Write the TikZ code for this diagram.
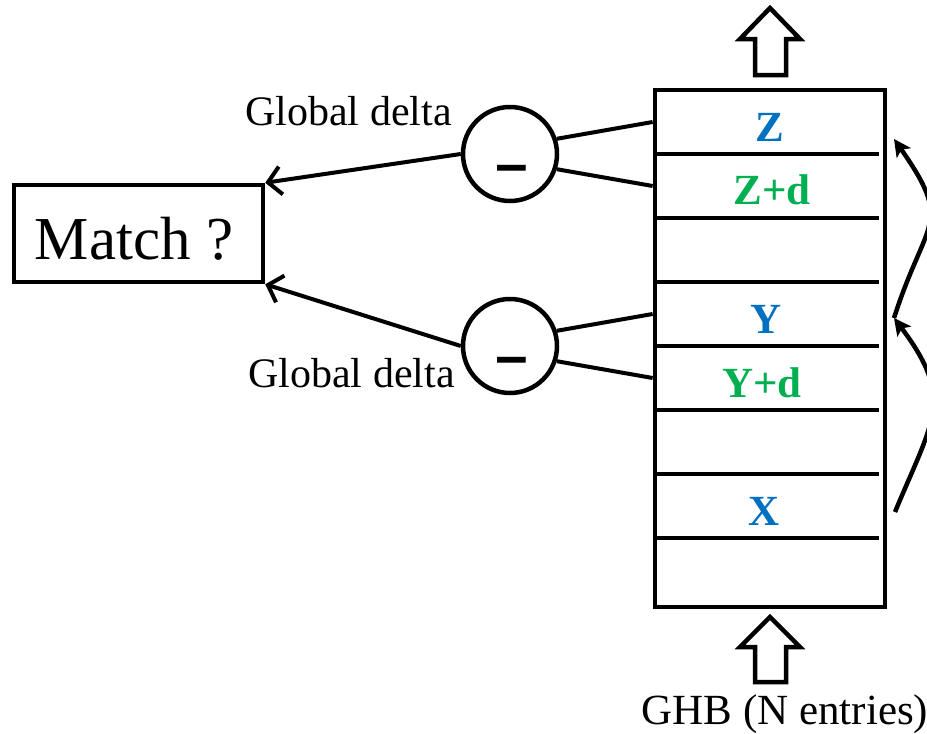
\documentclass[tikz,border=0pt]{standalone}
\usepackage{fontspec}
\setmainfont{Liberation Serif}
\usetikzlibrary{arrows.meta}
\definecolor{entryblue}{RGB}{0,112,192}
\definecolor{entrygreen}{RGB}{0,176,80}
\tikzset{
  lbl/.style={font=\fontsize{42}{42}\selectfont, inner sep=0pt},
  entry/.style={font=\fontsize{43}{43}\selectfont\bfseries, inner sep=0pt, anchor=base},
  subtract/.style={circle, draw, line width=4.5pt, minimum size=94pt, inner sep=0pt},
  wire/.style={line width=4pt},
  result/.style={line width=4pt, -{Straight Barb[length=13pt,width=28pt,line width=4pt]}},
  chain/.style={line width=4.5pt, -{Stealth[length=17pt,width=17pt,inset=4pt]}},
  blockarrow/.style={line width=4.5pt, line join=miter},
}
\begin{document}
\begin{tikzpicture}[x=1pt, y=-1pt]
\useasboundingbox (0,0) rectangle (927,734);

% global history buffer
\node[draw, line width=4.7pt, minimum width=230pt, minimum height=517pt, inner sep=0pt]
  (ghb) at (770,348.5) {};
\foreach \y in {154,218,282,346,410,474,538}
  \draw[line width=4.7pt] (655,\y) -- (879,\y);

% row centres
\coordinate (rZ)  at (770,122);
\coordinate (rZd) at (770,186);
\coordinate (rY)  at (770,314);
\coordinate (rYd) at (770,378);
\coordinate (rX)  at (770,506);

\node[entry, text=entryblue]  (tZ)  at (770,141) {Z};
\node[entry, text=entrygreen] (tZd) at (772,204) {Z+d};
\node[entry, text=entryblue]  (tY)  at (766,333) {Y};
\node[entry, text=entrygreen] (tYd) at (762,397) {Y+d};
\node[entry, text=entryblue]  (tX)  at (764,525) {X};

% in / out block arrows
\draw[blockarrow] (770,8) -- (800,39) -- (786,39) -- (786,75) -- (755,75) -- (755,39) -- (740,39) -- cycle;
\draw[blockarrow] (770,617) -- (800,647) -- (786,647) -- (786,682) -- (755,682) -- (755,647) -- (740,647) -- cycle;
\node[lbl, anchor=base, font=\fontsize{43}{43}\selectfont] (cap) at (785,724) {GHB (N entries)};

% subtractors
\node[subtract] (c1) at (510,154) {};
\node[subtract] (c2) at (510,346) {};
\node[anchor=base, inner sep=0pt] (m1) at (512,184)
  {\scalebox{1.6}[1]{\fontsize{69}{69}\selectfont\bfseries -}};
\node[anchor=base, inner sep=0pt] (m2) at (512,376)
  {\scalebox{1.6}[1]{\fontsize{69}{69}\selectfont\bfseries -}};

\draw[wire] (c1.18)  -- (ghb.west |- rZ);
\draw[wire] (c1.-18) -- (ghb.west |- rZd);
\draw[wire] (c2.18)  -- (ghb.west |- rY);
\draw[wire] (c2.-18) -- (ghb.west |- rYd);

% comparison
\node[draw, line width=4.5pt, minimum width=249pt, minimum height=97pt, inner sep=0pt]
  (match) at (138.5,233.5) {};
\node[font=\fontsize{61}{61}\selectfont, inner sep=0pt, anchor=base] (mtext) at (134,259) {Match ?};
\draw[result] (c1.west) -- (match.north east);
\draw[result] (c2.west) -- (match.south east);
\node[lbl, anchor=base west] (g1) at (245,125) {Global delta};
\node[lbl, anchor=base west] (g2) at (248,387) {Global delta};

% links between recorded entries
\coordinate (sX) at (895,512);
\coordinate (sY) at (894,318);
\coordinate (sZ) at (894,139);
\draw[chain] (sX) .. controls (933,420) and (955,399) .. (sY);
\draw[chain] (sY) .. controls (926,218) and (954,225) .. (sZ);
\end{tikzpicture}
\end{document}
